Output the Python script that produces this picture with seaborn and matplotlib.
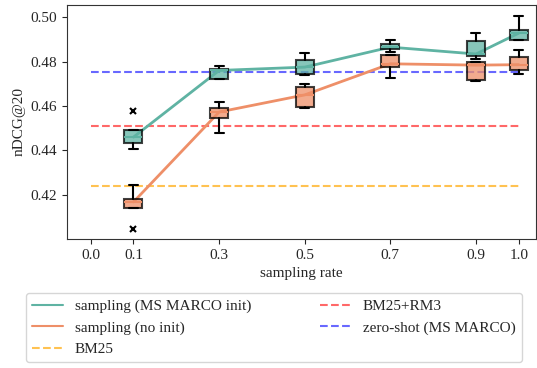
import numpy as np
import matplotlib
matplotlib.use("Agg")
import matplotlib.pyplot as plt
import seaborn as sns
import pandas as pd

# sampling rates
rates = [0.1, 0.3, 0.5, 0.7, 0.9, 1.0]

# sampling (MS MARCO init): box stats per rate
init_med = [0.4460, 0.4760, 0.4775, 0.4865, 0.4834, 0.4928]
init_q1 = [0.4434, 0.4721, 0.4744, 0.4856, 0.4825, 0.4897]
init_q3 = [0.4492, 0.4766, 0.4807, 0.4879, 0.4892, 0.4942]
init_lo = [0.4407, 0.4721, 0.4740, 0.4843, 0.4810, 0.4897]
init_hi = [0.4492, 0.4780, 0.4838, 0.4897, 0.4928, 0.5005]
init_fliers = [[0.4578], [], [], [], [], []]

# sampling (no init)
noinit_med = [0.4168, 0.4573, 0.4650, 0.4790, 0.4784, 0.4786]
noinit_q1 = [0.4142, 0.4546, 0.4596, 0.4775, 0.4717, 0.4762]
noinit_q3 = [0.4182, 0.4591, 0.4685, 0.4829, 0.4798, 0.4820]
noinit_lo = [0.4142, 0.4479, 0.4592, 0.4726, 0.4712, 0.4744]
noinit_hi = [0.4245, 0.4618, 0.4700, 0.4829, 0.4798, 0.4852]
noinit_fliers = [[0.4047], [], [], [], [], []]

# baselines
bm25 = 0.4240
bm25_rm3 = 0.4510
zero_shot = 0.4753

xticks = [0.0, 0.1, 0.3, 0.5, 0.7, 0.9, 1.0]
yticks = [0.42, 0.44, 0.46, 0.48, 0.50]

teal = "#5fb3a3"
orange = "#ee8f68"

sns.set_style("ticks")
plt.rcParams["font.family"] = ["Liberation Serif", "DejaVu Serif"]

fig, ax = plt.subplots(figsize=(5.37, 3.68), dpi=100)


def make_stats(med, q1, q3, lo, hi, fliers):
    return [dict(med=m, q1=a, q3=b, whislo=l, whishi=h, fliers=f)
            for m, a, b, l, h, f in zip(med, q1, q3, lo, hi, fliers)]


df = pd.DataFrame({
    "rate": rates * 2,
    "ndcg": init_med + noinit_med,
    "model": ["sampling (MS MARCO init)"] * len(rates) + ["sampling (no init)"] * len(rates),
})

sns.lineplot(data=df, x="rate", y="ndcg", hue="model",
             palette=[teal, orange], linewidth=2, ax=ax, zorder=3)

for stats, col in [(make_stats(init_med, init_q1, init_q3, init_lo, init_hi, init_fliers), teal),
                   (make_stats(noinit_med, noinit_q1, noinit_q3, noinit_lo, noinit_hi, noinit_fliers), orange)]:
    ax.bxp(stats, positions=rates, widths=0.042, patch_artist=True,
           boxprops=dict(facecolor=col, alpha=0.75, edgecolor="black", linewidth=1.5),
           medianprops=dict(color=col, linewidth=1.5),
           whiskerprops=dict(color="black", linewidth=1.5),
           capprops=dict(color="black", linewidth=1.5),
           flierprops=dict(marker="x", markersize=4, markeredgecolor="black", markeredgewidth=1.5),
           manage_ticks=False, zorder=4)

ax.plot([0.0, 1.0], [bm25, bm25], "--", color="#ffb833", alpha=0.85, linewidth=1.5, label="BM25")
ax.plot([0.0, 1.0], [bm25_rm3, bm25_rm3], "--", color="#ff4d4d", alpha=0.85, linewidth=1.5, label="BM25+RM3")
ax.plot([0.0, 1.0], [zero_shot, zero_shot], "--", color="#4d4dff", alpha=0.85, linewidth=1.5, label="zero-shot (MS MARCO)")

ax.set_xlim(-0.055, 1.04)
ax.set_ylim(0.4002, 0.5054)
ax.set_xticks(xticks)
ax.set_xticklabels([f"{t:.1f}" for t in xticks])
ax.set_yticks(yticks)
ax.set_yticklabels([f"{t:.2f}" for t in yticks])
ax.tick_params(labelsize=11)
ax.set_xlabel("sampling rate", fontsize=11)
ax.set_ylabel("nDCG@20", fontsize=11)
for s in ax.spines.values():
    s.set_visible(True)
    s.set_color("#333333")

handles, labels = ax.get_legend_handles_labels()
leg = ax.legend(handles, labels, loc="upper center", bbox_to_anchor=(0.441, -0.2),
                ncol=2, fontsize=11, frameon=True, columnspacing=4.5)
for h in leg.get_lines():
    h.set_linewidth(1.5)

fig.subplots_adjust(left=0.125, right=0.998, top=0.986, bottom=0.351)
fig.savefig("out.png", dpi=100)
